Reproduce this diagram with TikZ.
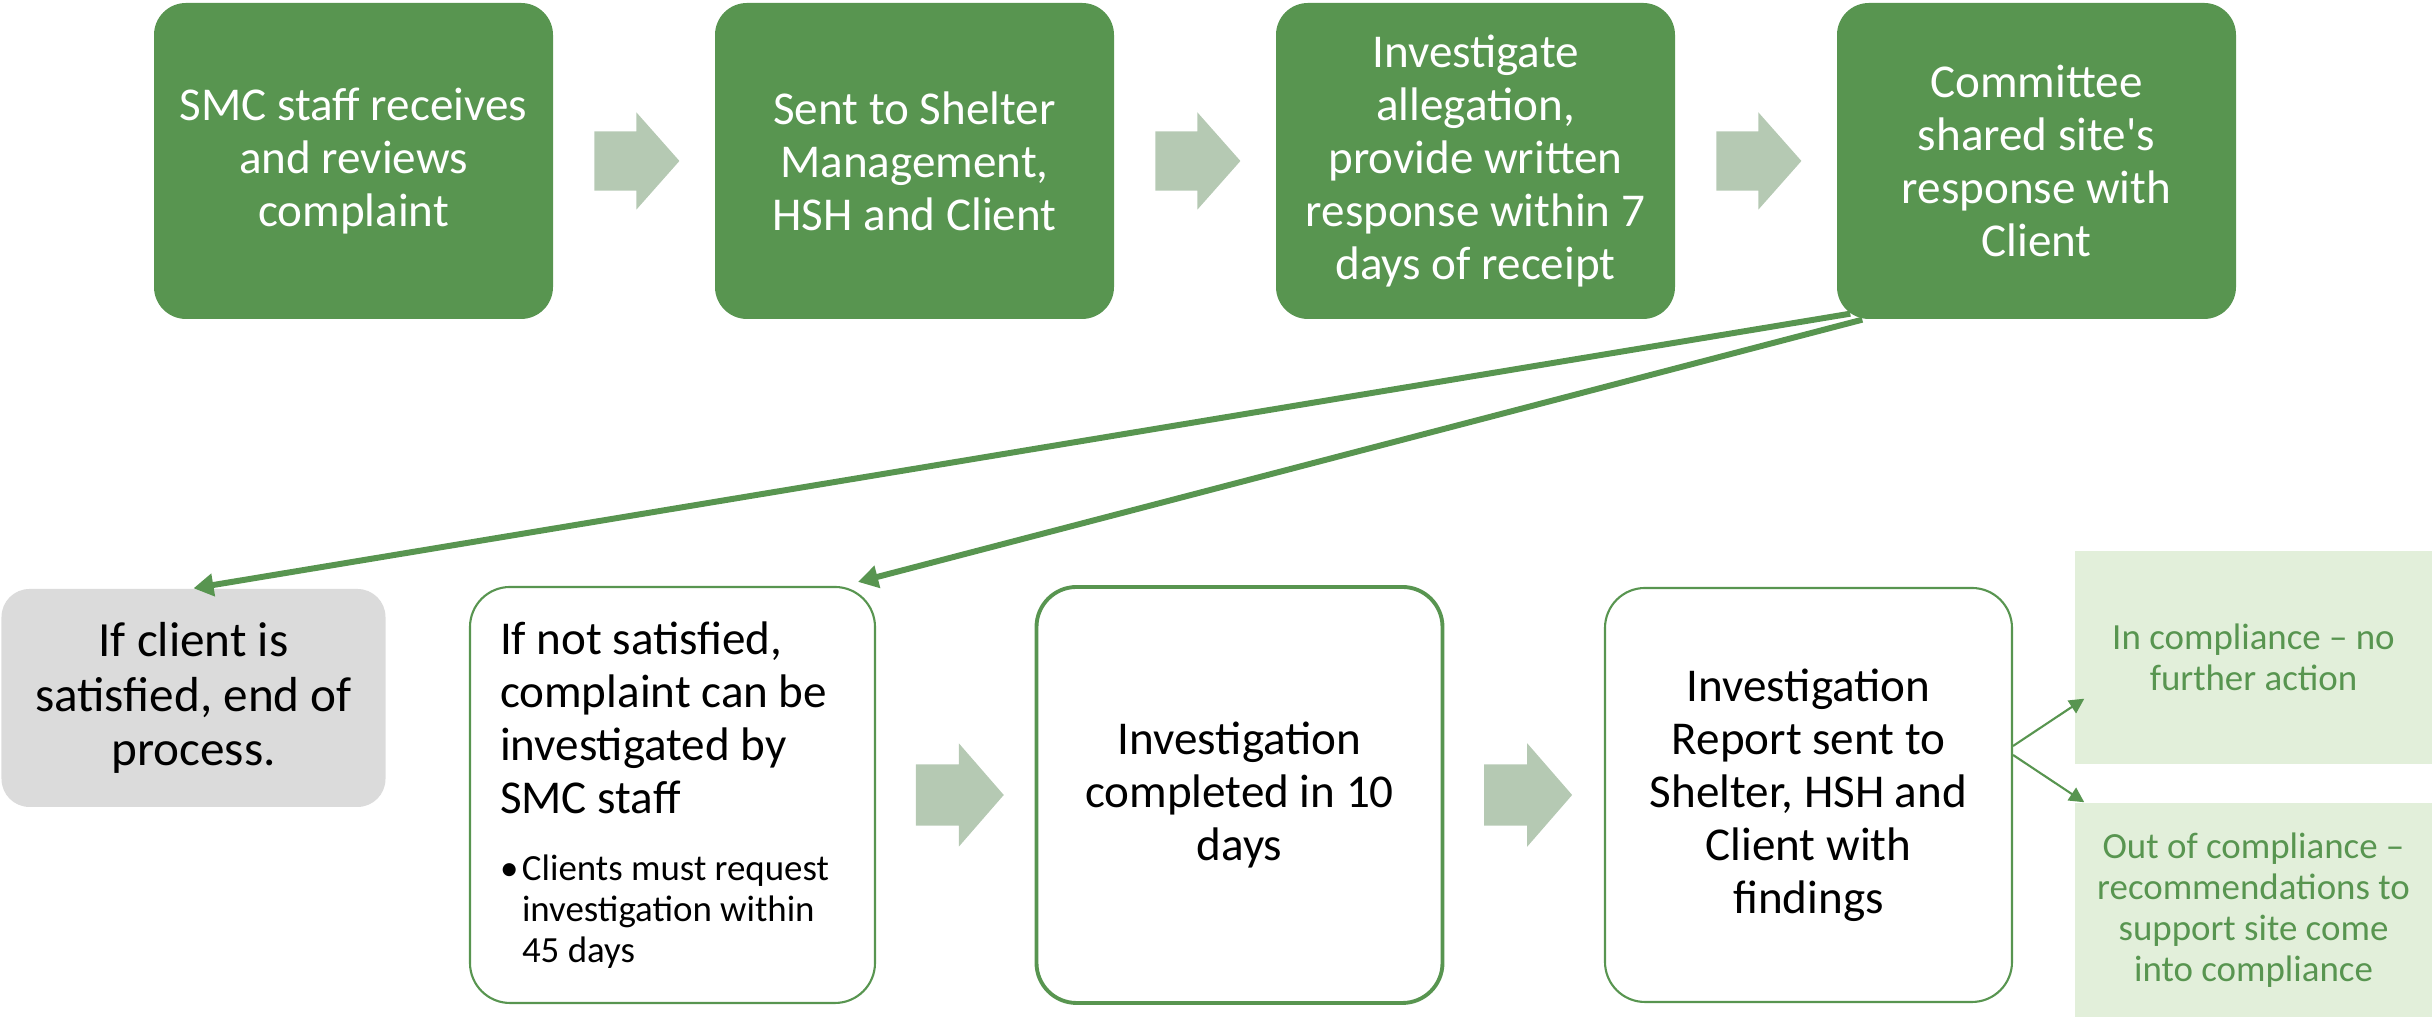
\documentclass[tikz,border=0pt]{standalone}
\usepackage{fontspec}
\setmainfont{Carlito}
\usetikzlibrary{shapes,arrows.meta,positioning}

\definecolor{smcgreen}{HTML}{589550}
\definecolor{chevgreen}{HTML}{B5C9B3}
\definecolor{endgray}{HTML}{DBDBDB}
\definecolor{palegreen}{HTML}{E2EFDA}

\tikzset{
    stepbox/.style = {rounded corners=0.32cm, fill=smcgreen, text=white, align=center, minimum width=3.99cm, minimum height=3.16cm, inner sep=0pt, font=\fontsize{13.4}{15.1}\selectfont},
    endbox/.style = {rounded corners=0.28cm, fill=endgray, align=center, minimum width=3.84cm, minimum height=2.18cm, inner sep=0pt, font=\fontsize{14}{15.6}\selectfont},
    whitebox/.style = {rounded corners=0.4cm, draw=smcgreen, line width=0.6pt, fill=white, minimum width=4.05cm, minimum height=4.16cm, inner sep=0pt, font=\fontsize{13.4}{15.1}\selectfont},
    resultbox/.style = {fill=palegreen, text=smcgreen, align=center, minimum width=3.57cm, inner sep=0pt, font=\fontsize{10.5}{11.7}\selectfont},
    chev/.style = {single arrow, fill=chevgreen, draw=none, inner xsep=0pt, inner ysep=0.29cm, minimum height=0.85cm, single arrow head extend=0.19cm, single arrow tip angle=97},
    bigchev/.style = {chev, inner ysep=0.3cm, minimum height=0.88cm, single arrow head extend=0.21cm, single arrow tip angle=98},
    bigarrow/.style = {draw=smcgreen, line width=1.7pt, -{Triangle[length=2mm, width=2.2mm]}},
    smallarrow/.style = {draw=smcgreen, line width=0.6pt, -{Triangle[length=1.5mm, width=1.5mm]}}
}

\begin{document}
\begin{tikzpicture}%
    \useasboundingbox (0,0) rectangle (24.32,10.17);
    \draw node [stepbox] (s1) at (3.535,8.56) {SMC staff receives\\and reviews\\complaint};
    \draw node [stepbox, node distance = 5.61cm, right of=s1] (s2) {Sent to Shelter\\Management,\\HSH and Client};
    \draw node [stepbox, node distance = 5.61cm, right of=s2] (s3) {Investigate\\allegation,\\provide written\\response within 7\\days of receipt};
    \draw node [stepbox, node distance = 5.61cm, right of=s3] (s4) {Committee\\shared site\textquotesingle s\\response with\\Client};
    \draw node [chev, right=0.4cm of s1] (c1) {};
    \draw node [chev, right=0.4cm of s2] (c2) {};
    \draw node [chev, right=0.4cm of s3] (c3) {};

    \draw node [endbox] (sat) at (1.935,3.19) {If client is\\satisfied, end of\\process.};
    \draw node [whitebox, text width=3.45cm, align=flush left] (nsat) at (6.725,2.22) {If not satisfied,\\complaint can be\\investigated by\\SMC staff\par\vspace{7.2pt}%
        {\fontsize{10.5}{11.7}\selectfont\makebox[2.2mm][l]{\textbullet}Clients must request\\\hspace*{2.2mm}investigation within\\\hspace*{2.2mm}45 days\par}};
    \draw node [whitebox, line width=1.1pt, align=center, minimum width=4.06cm, node distance = 5.67cm, right of=nsat] (comp) {Investigation\\completed in 10\\days};
    \draw node [whitebox, align=center, minimum width=4.07cm, minimum height=4.14cm, node distance = 5.69cm, right of=comp] (rep) {Investigation\\Report sent to\\Shelter, HSH and\\Client with\\findings};
    \draw node [bigchev, right=0.39cm of nsat] (c4) {};
    \draw node [bigchev, right=0.39cm of comp] (c5) {};
    \draw node [resultbox, minimum height=2.13cm] (ok) at (22.535,3.595) {In compliance -- no\\further action};
    \draw node [resultbox, minimum height=2.14cm] (nok) at (22.535,1.07) {Out of compliance --\\recommendations to\\support site come\\into compliance};

    \draw [bigarrow] ([shift={(0.14,0.06)}]s4.south west) -- (sat.north);
    \draw [bigarrow] ([shift={(0.26,0)}]s4.south west) -- ([shift={(-0.18,0.04)}]nsat.north east);
    \draw [smallarrow] ([yshift=4.9mm]rep.east) -- ([shift={(0.1,0.66)}]ok.south west);
    \draw [smallarrow] ([yshift=4mm]rep.east) -- ([xshift=1mm]nok.north west);
    %\draw[help lines] (0,0) grid (24,10);
  \end{tikzpicture}
\end{document}
